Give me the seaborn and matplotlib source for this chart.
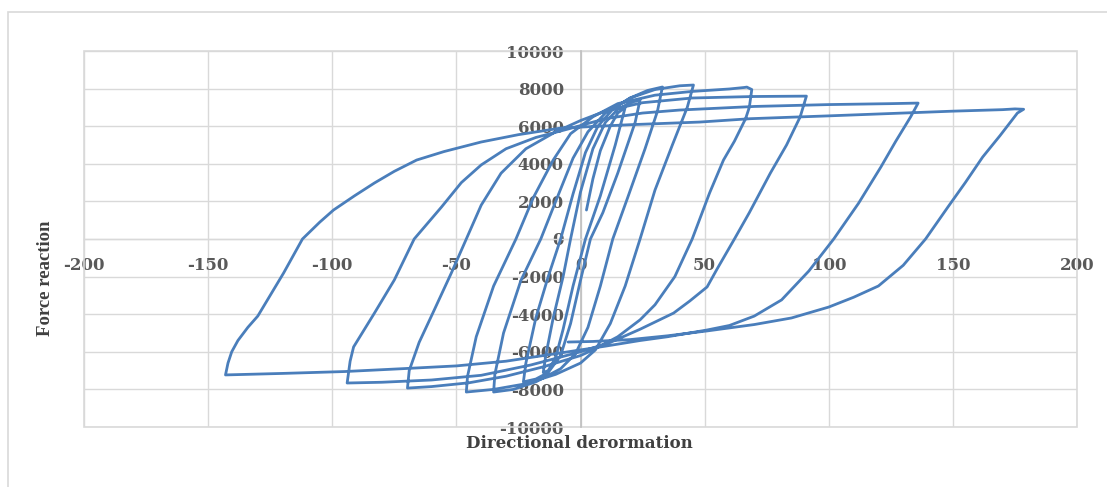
import matplotlib
matplotlib.use("Agg")
import matplotlib.pyplot as plt
import seaborn as sns
import pandas as pd
from matplotlib.patches import Rectangle

# Hysteresis path (directional deformation vs force reaction)
deformation = [
    2.4, 5, 8, 12, 15, 18,
    14, 8, 2, -3, -7, -10, -13, -15,
    -14, -11, -7, -4, 0, 5, 10, 15, 20, 24,
    22, 15, 9, 4, 0, -4, -8, -13, -18, -23,
    -22, -18, -13, -8, -3, 2, 7, 13, 20, 27, 33,
    31, 26, 19, 13, 8, 3, -2, -8, -18, -27, -35,
    -34.5, -31, -24, -16, -10, -3, 3, 10, 20, 30, 40, 45.5,
    43, 37, 30, 24, 18, 12, 6, 0, -10, -22, -35, -46,
    -45.5, -42, -35, -26, -19, -11, -4, 5, 15, 30, 45, 60, 66, 67, 69,
    68, 66.5, 62, 57.6, 52, 45, 38, 30, 24, 15, 5, 0, -15, -30, -45, -60, -69.7,
    -69, -65, -59, -52, -46, -40, -32, -22, -10, 0, 10, 25, 45, 70, 91,
    88.5, 83, 76.5, 68, 62, 55, 51, 44, 37.5, 24, 12, 0, -20, -40, -60, -80, -94,
    -92.8, -91.4, -87, -83, -75, -67, -56, -48, -40, -30, -18, -5, 10, 25, 40, 70, 100, 125, 136,
    133, 127, 121, 112, 102, 92, 81, 70, 60, 51, 35, 24, 10, 0, -15, -30, -50, -72, -95, -120, -135, -143,
    -142, -140.5, -138, -134, -130, -125, -119.6, -112, -105, -99.5, -91, -83, -75, -66, -55, -40, -25, -8, 0,
    20, 48, 68.5, 100, 130, 150, 170, 175, 178.5,
    176, 169, 162, 155, 148, 139, 130, 120, 110, 100, 85, 70, 51, 35, 20, 5, -5,
]
force = [
    1540, 3200, 4700, 6000, 6700, 7000,
    5000, 2300, 0, -2500, -4800, -6300, -7000, -7100,
    -6200, -4200, -2000, 0, 2500, 4800, 6200, 6900, 7250, 7400,
    6200, 3500, 1400, 0, -2200, -4500, -6200, -7100, -7450, -7600,
    -6600, -4200, -2000, 0, 2400, 4600, 6000, 6900, 7500, 7900, 8085,
    6800, 4800, 2200, 0, -2500, -4700, -6100, -6900, -7600, -8000, -8140,
    -7200, -5000, -2200, 0, 2000, 4300, 5700, 6700, 7500, 7950, 8150, 8190,
    7000, 5000, 2600, 0, -2500, -4500, -5900, -6600, -7200, -7700, -8000, -8140,
    -7300, -5200, -2500, 0, 2200, 4200, 5600, 6500, 7200, 7650, 7850, 7980, 8060, 8080, 7950,
    7000, 6400, 5200, 4200, 2450, 0, -2000, -3500, -4300, -5200, -5900, -6200, -6800, -7300, -7650, -7850, -7930,
    -7000, -5500, -3800, -1800, 0, 1800, 3500, 4800, 5700, 6300, 6800, 7250, 7500, 7580, 7600,
    6500, 5000, 3510, 1400, 0, -1600, -2550, -3300, -3940, -4800, -5500, -6000, -6700, -7250, -7500, -7620, -7660,
    -6500, -5740, -4800, -3940, -2180, 0, 1700, 3000, 3940, 4800, 5400, 5850, 6400, 6700, 6860, 7050, 7150, 7200, 7230,
    6500, 5200, 3830, 1900, 0, -1700, -3240, -4100, -4600, -4840, -5200, -5400, -5700, -5900, -6200, -6500, -6750, -6900, -7050, -7150, -7200, -7230,
    -6600, -6000, -5400, -4700, -4100, -3000, -1810, 0, 900, 1540, 2300, 2980, 3600, 4200, 4650, 5160, 5550, 5900, 5950,
    6080, 6220, 6400, 6550, 6700, 6800, 6880, 6920, 6900,
    6700, 5500, 4360, 3000, 1700, 0, -1400, -2500, -3100, -3620, -4200, -4550, -4890, -5150, -5350, -5450, -5480,
]

x_ticks = [-200, -150, -100, -50, 0, 50, 100, 150, 200]
y_ticks = [-10000, -8000, -6000, -4000, -2000, 0, 2000, 4000, 6000, 8000, 10000]
x_label = "Directional derormation"
y_label = "Force reaction"

sns.set_theme(style="white")
plt.rcParams["font.family"] = ["DejaVu Serif"]

W, H = 1107, 487
fig = plt.figure(figsize=(W / 100, H / 100), dpi=100)
fig.patch.set_facecolor("white")

# outer chart-area frame (partly cut off in the reference)
fig.add_artist(Rectangle((8 / W, -0.2), 1.5, 1 - 12 / H + 0.2, transform=fig.transFigure,
                         fill=False, edgecolor="#d9d9d9", lw=1.2))

ax = fig.add_axes([84 / W, 1 - 427 / H, (1077 - 84) / W, (427 - 51) / H])

df = pd.DataFrame({"deformation": deformation, "force": force})
sns.lineplot(data=df, x="deformation", y="force", sort=False, estimator=None,
             color="#4a7ebb", lw=2.0, ax=ax, zorder=3,
             solid_joinstyle="round", solid_capstyle="round")

ax.set_xlim(-200, 200)
ax.set_ylim(-10000, 10000)
ax.set_xticks(x_ticks)
ax.set_yticks(y_ticks)
ax.set_xticklabels([str(v) for v in x_ticks])
ax.set_yticklabels([str(v) for v in y_ticks])
ax.grid(True, color="#d9d9d9", lw=1)
ax.set_axisbelow(True)

for s in ["top", "right"]:
    ax.spines[s].set_visible(False)
ax.spines["left"].set_position(("data", 0))
ax.spines["bottom"].set_position(("data", 0))
ax.spines["left"].set_color("#bfbfbf")
ax.spines["bottom"].set_color("#d9d9d9")
ax.spines["left"].set_linewidth(1.2)
ax.spines["bottom"].set_linewidth(1)
ax.spines["left"].set_zorder(2)
ax.spines["bottom"].set_zorder(2)

ax.add_patch(Rectangle((0, 0), 1, 1, transform=ax.transAxes, fill=False,
                       edgecolor="#d9d9d9", lw=1.2, clip_on=False, zorder=1))

ax.tick_params(axis="both", length=0)
ax.tick_params(axis="x", pad=13)
ax.tick_params(axis="y", pad=12)
for lab in ax.get_xticklabels() + ax.get_yticklabels():
    lab.set_fontweight("bold")
    lab.set_fontsize(12)
    lab.set_color("#595959")

ax.set_xlabel("")
ax.set_ylabel("")

fig.text(579 / W, 1 - 444 / H, x_label, ha="center", va="center",
         fontsize=12, fontweight="bold", color="#404040")
fig.text(46 / W, 1 - 278 / H, y_label, ha="center", va="center", rotation=90,
         fontsize=13.5, fontweight="bold", color="#404040", family=["Liberation Serif"])

fig.savefig("out.png", dpi=100, facecolor="white")
